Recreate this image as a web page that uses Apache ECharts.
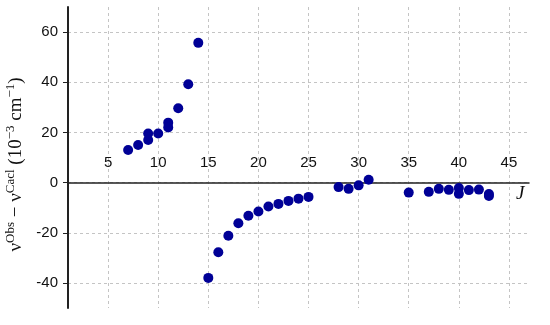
<!DOCTYPE html>
<html lang="en">
<head>
    <meta charset="UTF-8">
    <title>residuals vs J</title>
    <style>
        *{ margin: 0; }
        html,body{ height: 100%; background: #fff; }
        #chart{ width: 550px; height: 325px; }
    </style>
    <script src="https://cdn.jsdelivr.net/npm/echarts@6/dist/echarts.min.js"></script>
</head>
<body>
<div id="chart"></div>
<script>
    // J 值 与 残差 (10^-3 cm^-1)
    const jValues = [7, 8, 9, 9, 10, 11, 11, 12, 13, 14,
        15, 16, 17, 18, 19, 20, 21, 22, 23, 24, 25,
        28, 29, 30, 31, 35, 37, 38, 39, 40, 40, 41, 42, 43, 43];
    const residuals = [13.0, 15.0, 19.6, 17.0, 19.6, 23.9, 22.0, 29.6, 39.2, 55.7,
        -38.0, -27.8, -21.2, -16.2, -13.2, -11.5, -9.5, -8.5, -7.3, -6.4, -5.7,
        -1.8, -2.5, -1.1, 1.1, -4.0, -3.7, -2.5, -2.9, -2.2, -4.5, -3.0, -2.8, -4.6, -5.3];
    const xTicks = [5, 10, 15, 20, 25, 30, 35, 40, 45];
    const yTicks = [-40, -20, 0, 20, 40, 60];
    const yMin = -50, yMax = 70;

    const points = jValues.map((j, i) => [j, residuals[i]]);

    // 图区上下边距, 第二个 grid 的下边对齐 y=0, 用来放 x 轴刻度文字
    const chartH = 325, gridTop = 7, gridBottom = 17;
    const zeroY = gridTop + (yMax / (yMax - yMin)) * (chartH - gridTop - gridBottom);

    var myChart = echarts.init(document.getElementById('chart'));
    myChart.setOption({
        animation: false,
        grid: [
            { left: 68, right: 21, top: gridTop, bottom: gridBottom, outerBoundsMode: 'none' },
            { left: 68, right: 21, top: gridTop, bottom: chartH - zeroY, outerBoundsMode: 'none' }
        ],
        xAxis: [
            {
                type: 'value',
                gridIndex: 0,
                min: 1,
                max: 47,
                axisLine: { onZero: true, lineStyle: { color: '#222', width: 1.5 } },
                axisTick: { show: false, customValues: xTicks },
                axisLabel: { show: false, customValues: xTicks },
                splitLine: { show: true, lineStyle: { color: '#c4c4c4', type: [3, 3], width: 1 } }
            },
            {
                type: 'value',
                gridIndex: 1,
                min: 1,
                max: 47,
                axisLine: { show: false },
                axisTick: { show: false, customValues: xTicks },
                axisLabel: {
                    customValues: xTicks,
                    inside: true,
                    margin: 12,
                    color: '#111',
                    fontSize: 15,
                    fontFamily: 'Liberation Sans'
                },
                splitLine: { show: false }
            }
        ],
        yAxis: [
            {
                type: 'value',
                gridIndex: 0,
                min: yMin,
                max: yMax,
                axisLine: { show: true, onZero: false, lineStyle: { color: '#222', width: 2 } },
                axisTick: { show: true, length: 5, customValues: yTicks, lineStyle: { color: '#222' } },
                axisLabel: {
                    customValues: yTicks,
                    margin: 10,
                    color: '#111',
                    fontSize: 15,
                    fontFamily: 'Liberation Sans'
                },
                splitLine: { show: true, lineStyle: { color: '#c4c4c4', type: [3, 3], width: 1 } },
                name: '{m|ν}{s|Obs}{m| − ν}{s|Cacl}{m| (10}{s|−3}{m| cm}{s|−1}{m|)}',
                nameLocation: 'middle',
                nameRotate: 90,
                nameGap: 40,
                nameTextStyle: {
                    padding: [0, 14, 0, 0],
                    rich: {
                        m: { fontSize: 19, fontFamily: 'Liberation Serif', color: '#111', lineHeight: 21, verticalAlign: 'bottom' },
                        s: { fontSize: 13, fontFamily: 'Liberation Serif', color: '#111', lineHeight: 21, verticalAlign: 'top' }
                    }
                }
            },
            {
                type: 'value',
                gridIndex: 1,
                show: false
            }
        ],
        graphic: [
            {
                type: 'text',
                left: 516,
                top: 184,
                style: { text: 'J', font: 'italic 19px "Liberation Serif"', fill: '#111' }
            }
        ],
        series: [
            {
                type: 'scatter',
                xAxisIndex: 0,
                yAxisIndex: 0,
                data: points,
                symbolSize: 10,
                itemStyle: { color: '#000096', opacity: 1 }
            }
        ]
    });
</script>
</body>
</html>
